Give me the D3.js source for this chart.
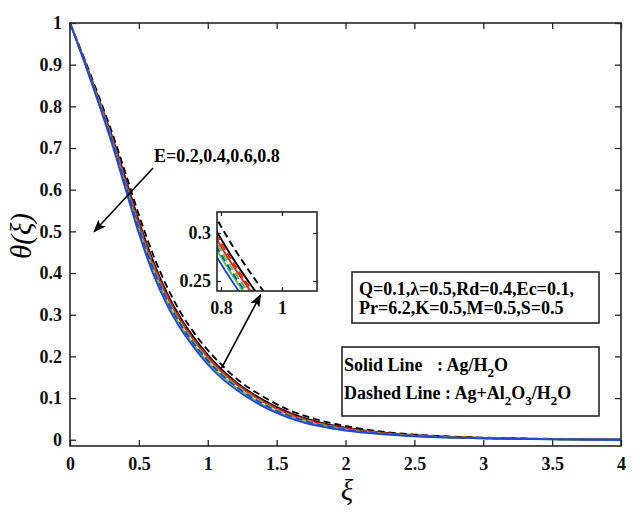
<!DOCTYPE html>
<html>
<head>
<meta charset="utf-8">
<script src="https://cdn.jsdelivr.net/npm/d3@7"></script>
<style>
body { margin: 0; background: #fff; }
svg text { font-family: "Liberation Serif", "Times New Roman", serif; font-weight: bold; }
</style>
</head>
<body>
<svg width="640" height="514"></svg>
<script>
// xi grid and theta profiles
var xi = [0, 0.1, 0.2, 0.3, 0.4, 0.5, 0.6, 0.7, 0.8, 0.9, 1.0, 1.1, 1.2, 1.4, 1.6, 1.8, 2.0, 2.25, 2.5, 3.0, 3.5, 4.0];

// solid: Ag/H2O
var agE02 = [1, 0.915, 0.826, 0.733, 0.630, 0.525, 0.432, 0.355, 0.294, 0.245, 0.204, 0.169, 0.140, 0.096, 0.064, 0.043, 0.029, 0.018, 0.011, 0.0045, 0.0018, 0];
var agE04 = [1, 0.913, 0.823, 0.728, 0.622, 0.516, 0.423, 0.346, 0.286, 0.238, 0.197, 0.163, 0.135, 0.091, 0.060, 0.040, 0.027, 0.0166, 0.0101, 0.0041, 0.0015, 0];
var agE06 = [1, 0.911, 0.818, 0.720, 0.612, 0.503, 0.410, 0.334, 0.275, 0.227, 0.187, 0.1535, 0.127, 0.084, 0.055, 0.036, 0.0237, 0.0145, 0.0088, 0.0036, 0.0012, 0];
var agE08 = [1, 0.910, 0.815, 0.715, 0.605, 0.495, 0.401, 0.326, 0.268, 0.221, 0.181, 0.148, 0.122, 0.080, 0.0515, 0.033, 0.0218, 0.0133, 0.008, 0.0032, 0.001, 0];

// dashed: Ag+Al2O3/H2O
var hybE02 = [1, 0.918, 0.832, 0.742, 0.643, 0.540, 0.447, 0.370, 0.307, 0.257, 0.215, 0.180, 0.149, 0.104, 0.070, 0.048, 0.033, 0.020, 0.0125, 0.0051, 0.0022, 0];
var hybE04 = [1, 0.914, 0.824, 0.730, 0.626, 0.520, 0.427, 0.350, 0.290, 0.241, 0.200, 0.165, 0.137, 0.093, 0.062, 0.041, 0.028, 0.017, 0.0105, 0.0043, 0.0017, 0];
var hybE06 = [1, 0.912, 0.821, 0.725, 0.618, 0.511, 0.418, 0.341, 0.282, 0.234, 0.193, 0.159, 0.132, 0.089, 0.058, 0.0385, 0.0256, 0.0158, 0.0096, 0.0039, 0.0014, 0];
var hybE08 = [1, 0.912, 0.819, 0.722, 0.615, 0.507, 0.414, 0.338, 0.278, 0.230, 0.190, 0.156, 0.129, 0.086, 0.0565, 0.037, 0.0247, 0.0152, 0.0092, 0.0037, 0.0013, 0];

var xTicks = [0, 0.5, 1, 1.5, 2, 2.5, 3, 3.5, 4];
var yTicks = [0, 0.1, 0.2, 0.3, 0.4, 0.5, 0.6, 0.7, 0.8, 0.9, 1];
var insetXTicks = [0.8, 1];
var insetYTicks = [0.25, 0.3];

// back to front
var series = [
  {vals: hybE02, color: "#000000", dash: true},
  {vals: agE02, color: "#000000", dash: false},
  {vals: hybE04, color: "#e8201c", dash: true},
  {vals: agE04, color: "#e8201c", dash: false},
  {vals: hybE06, color: "#4fd02a", dash: true},
  {vals: agE06, color: "#4fd02a", dash: false},
  {vals: hybE08, color: "#2442dc", dash: true},
  {vals: agE08, color: "#2442dc", dash: false}
];

var svg = d3.select("svg");
var frameColor = "#262626";

var x = d3.scaleLinear().domain([0, 4]).range([70, 621]);
var y = d3.scaleLinear().domain([-0.015, 1]).range([446, 23]);

var defs = svg.append("defs");
defs.append("marker")
  .attr("id", "head")
  .attr("markerUnits", "userSpaceOnUse")
  .attr("markerWidth", 14).attr("markerHeight", 10)
  .attr("refX", 12).attr("refY", 5)
  .attr("orient", "auto")
  .append("path")
  .attr("d", "M0,0 L13,5 L0,10 L3,5 Z")
  .attr("fill", "#000");

defs.append("clipPath").attr("id", "insetClip")
  .append("rect").attr("x", 217).attr("y", 212).attr("width", 100).attr("height", 79);

function drawLines(g, xs, ys, width) {
  var line = d3.line()
    .x(function(d, i) { return xs(xi[i]); })
    .y(function(d) { return ys(d); })
    .curve(d3.curveMonotoneX);
  g.selectAll("path.curve")
    .data(series)
    .enter().append("path")
    .attr("class", "curve")
    .attr("d", function(s) { return line(s.vals); })
    .attr("fill", "none")
    .attr("stroke", function(s) { return s.color; })
    .attr("stroke-width", width)
    .attr("stroke-dasharray", function(s) { return s.dash ? "7,4" : null; });
}

function styleAxis(g, size) {
  g.attr("font-size", size);
  g.select(".domain").remove();
  g.selectAll("line").attr("stroke", frameColor).attr("stroke-width", 1.3);
  g.selectAll("text").attr("fill", "#111");
}

// main axes (ticks inward on all four sides)
svg.append("g").attr("transform", "translate(0,446)")
  .call(d3.axisBottom(x).tickValues(xTicks).tickFormat(d3.format("")).tickSize(-6).tickPadding(11))
  .call(styleAxis, 18);
svg.append("g").attr("transform", "translate(0,23)")
  .call(d3.axisTop(x).tickValues(xTicks).tickFormat("").tickSize(-6))
  .call(styleAxis, 18);
svg.append("g").attr("transform", "translate(70,0)")
  .call(d3.axisLeft(y).tickValues(yTicks).tickFormat(d3.format("")).tickSize(-6).tickPadding(8))
  .call(styleAxis, 18);
svg.append("g").attr("transform", "translate(621,0)")
  .call(d3.axisRight(y).tickValues(yTicks).tickFormat("").tickSize(-6))
  .call(styleAxis, 18);

drawLines(svg.append("g"), x, y, 1.8);

svg.append("rect")
  .attr("x", 70).attr("y", 23).attr("width", 551).attr("height", 423)
  .attr("fill", "none").attr("stroke", frameColor).attr("stroke-width", 1.6);

// axis titles
svg.append("text")
  .attr("transform", "translate(31,236) rotate(-90)")
  .attr("text-anchor", "middle")
  .style("font-style", "italic").style("font-weight", "normal")
  .attr("font-size", 29)
  .text("θ(ξ)");
svg.append("text")
  .attr("x", 347).attr("y", 500)
  .attr("text-anchor", "middle")
  .style("font-style", "italic").style("font-weight", "normal")
  .attr("font-size", 29)
  .text("ξ");

// inset zoom
var ix = d3.scaleLinear().domain([0.787, 1.115]).range([217, 317]);
var iy = d3.scaleLinear().domain([0.2396, 0.3219]).range([291, 212]);

var inset = svg.append("g");
inset.append("rect")
  .attr("x", 217).attr("y", 212).attr("width", 100).attr("height", 79)
  .attr("fill", "#fff");
drawLines(inset.append("g").attr("clip-path", "url(#insetClip)"), ix, iy, 1.9);

inset.append("g").attr("transform", "translate(0,291)")
  .call(d3.axisBottom(ix).tickValues(insetXTicks).tickFormat(d3.format("")).tickSize(-4).tickPadding(10))
  .call(styleAxis, 18);
inset.append("g").attr("transform", "translate(0,212)")
  .call(d3.axisTop(ix).tickValues(insetXTicks).tickFormat("").tickSize(-4))
  .call(styleAxis, 18);
inset.append("g").attr("transform", "translate(217,0)")
  .call(d3.axisLeft(iy).tickValues(insetYTicks).tickFormat(d3.format("")).tickSize(-4).tickPadding(6))
  .call(styleAxis, 18);
inset.append("g").attr("transform", "translate(317,0)")
  .call(d3.axisRight(iy).tickValues(insetYTicks).tickFormat("").tickSize(-4))
  .call(styleAxis, 18);
inset.append("rect")
  .attr("x", 217).attr("y", 212).attr("width", 100).attr("height", 79)
  .attr("fill", "none").attr("stroke", frameColor).attr("stroke-width", 1.6);

// annotations
svg.append("text")
  .attr("x", 154).attr("y", 162)
  .attr("font-size", 18)
  .text("E=0.2,0.4,0.6,0.8");

svg.append("line")
  .attr("x1", x(0.603)).attr("y1", y(0.652))
  .attr("x2", x(0.174)).attr("y2", y(0.499))
  .attr("stroke", "#000").attr("stroke-width", 1.6)
  .attr("marker-end", "url(#head)");

svg.append("line")
  .attr("x1", x(1.1)).attr("y1", y(0.172))
  .attr("x2", x(1.384)).attr("y2", y(0.348))
  .attr("stroke", "#000").attr("stroke-width", 1.6)
  .attr("marker-end", "url(#head)");

// parameter box
svg.append("rect")
  .attr("x", 352).attr("y", 272).attr("width", 247).attr("height", 51)
  .attr("fill", "#fff").attr("stroke", frameColor).attr("stroke-width", 1.6);
svg.append("text").attr("x", 359).attr("y", 295).attr("font-size", 18)
  .text("Q=0.1,λ=0.5,Rd=0.4,Ec=0.1,");
svg.append("text").attr("x", 359).attr("y", 314).attr("font-size", 18)
  .text("Pr=6.2,K=0.5,M=0.5,S=0.5");

// line style legend
svg.append("rect")
  .attr("x", 342).attr("y", 347).attr("width", 257).attr("height", 69)
  .attr("fill", "#fff").attr("stroke", frameColor).attr("stroke-width", 1.6);

svg.append("text").attr("x", 344).attr("y", 371).attr("font-size", 18).text("Solid Line");
var l1 = svg.append("text").attr("x", 437).attr("y", 371).attr("font-size", 18);
l1.append("tspan").text(": Ag/H");
l1.append("tspan").attr("dy", 6).attr("font-size", 13).text("2");
l1.append("tspan").attr("dy", -6).text("O");

var l2 = svg.append("text").attr("x", 344).attr("y", 399).attr("font-size", 18);
l2.append("tspan").text("Dashed Line : Ag+Al");
l2.append("tspan").attr("dy", 6).attr("font-size", 13).text("2");
l2.append("tspan").attr("dy", -6).text("O");
l2.append("tspan").attr("dy", 6).attr("font-size", 13).text("3");
l2.append("tspan").attr("dy", -6).text("/H");
l2.append("tspan").attr("dy", 6).attr("font-size", 13).text("2");
l2.append("tspan").attr("dy", -6).text("O");
</script>
</body>
</html>
